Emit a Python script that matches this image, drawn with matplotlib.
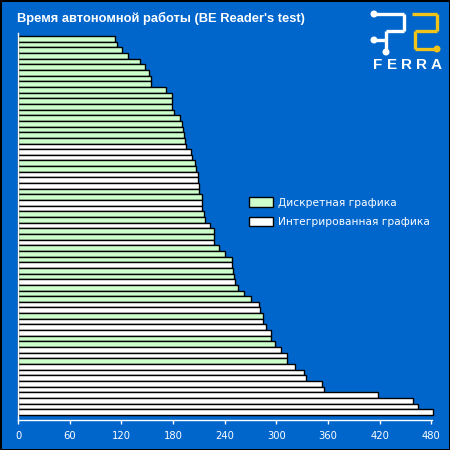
import matplotlib.pyplot as plt
from matplotlib.patches import Patch, Circle
from matplotlib.lines import Line2D

# battery life, minutes, top to bottom
values = [113, 115, 121, 128, 142, 148, 152, 154, 154, 172,
          179, 179, 179, 181, 188, 190, 192, 193, 194, 195,
          201, 202, 206, 207, 209, 209, 210, 210, 214, 214,
          214, 216, 217, 223, 228, 228, 228, 233, 240, 248,
          249, 250, 251, 252, 256, 263, 271, 280, 281, 284,
          284, 288, 294, 294, 298, 305, 312, 312, 322, 332,
          335, 353, 355, 418, 459, 465, 482]
# d = discrete graphics, i = integrated graphics
kinds = list("ddddddddddddddddddd" "iii" "dd" "iii" "dd" "ii" "dd" "i" "dd" "i"
             "ddd" "i" "dd" "i" "ddd" "ii" "d" "iii" "dd" "ii" "d" "iiiiiiiii")
labels = {"d": "Дискретная графика", "i": "Интегрированная графика"}
colors = {"d": "#ccffcc", "i": "#ffffff"}
xticks = list(range(0, 481, 60))

BLUE = "#0066cc"
W = H = 450.0

def fx(x):
    return x / W

def fy(y):
    return 1 - y / H

fig = plt.figure(figsize=(4.5, 4.5), dpi=100, facecolor=BLUE)
fig.patch.set_edgecolor("black")
fig.patch.set_linewidth(2)

ax = fig.add_axes([fx(18), fy(420), (432.2 - 18) / W, (420 - 33) / H])
ax.set_facecolor(BLUE)

ypos = list(range(len(values)))
ax.barh(ypos, values, height=1.0, color=[colors[k] for k in kinds],
        edgecolor="black", linewidth=1.0, clip_on=False, zorder=3)

ax.set_xlim(0, 481)
ax.set_ylim(67.4, -1.05)
ax.set_xticks(xticks)
ax.set_xticklabels([str(t) for t in xticks])
ax.set_yticks([])
ax.tick_params(axis="x", colors="white", length=3, width=1, pad=5, labelsize=7.2)
for s in ["top", "right"]:
    ax.spines[s].set_visible(False)
for s in ["left", "bottom"]:
    ax.spines[s].set_color("white")
    ax.spines[s].set_linewidth(1)
    ax.spines[s].set_zorder(4)

# legend
handles = [Patch(facecolor=colors[k], edgecolor="black", linewidth=1, label=labels[k])
           for k in ["d", "i"]]
leg = fig.legend(handles=handles, loc="upper left", bbox_to_anchor=(fx(245), fy(193)),
                 frameon=False, fontsize=7.7, handlelength=2.2, handleheight=0.95,
                 handletextpad=0.5, labelspacing=0.85, borderaxespad=0)
for t in leg.get_texts():
    t.set_color("white")

# title
fig.text(fx(17), fy(18), "Время автономной работы (BE Reader's test)", color="white",
         fontsize=9.3, fontweight="bold", family="Liberation Sans", va="center", ha="left")

# logo
wl = [((374, 14), (404, 14)), ((404, 14), (404, 31)), ((404, 31), (386, 31)),
      ((386, 31), (386, 52)), ((374, 40), (386, 40))]
yl = [((412, 14), (437, 14)), ((437, 14), (437, 31)), ((437, 31), (415, 31)),
      ((415, 31), (415, 49)), ((415, 49), (437, 49))]
for segs, c in [(wl, "white"), (yl, "#f2c318")]:
    for (x0, y0), (x1, y1) in segs:
        fig.add_artist(Line2D([fx(x0), fx(x1)], [fy(y0), fy(y1)], color=c, lw=2.4,
                              solid_capstyle="butt", transform=fig.transFigure))
for (x, y), c in [((374, 14), "white"), ((374, 40), "white"), ((386, 52), "white"),
                  ((437, 49), "#f2c318")]:
    fig.add_artist(Circle((fx(x), fy(y)), 2.8 / W, color=c, transform=fig.transFigure))
for i, ch in enumerate("FERRA"):
    fig.text(fx(378 + i * 14.5), fy(65), ch, color="white", fontsize=11, fontweight="bold",
             family="Liberation Sans", ha="center", va="center")

fig.savefig("out.png", dpi=100, facecolor=fig.get_facecolor(), edgecolor="black")
